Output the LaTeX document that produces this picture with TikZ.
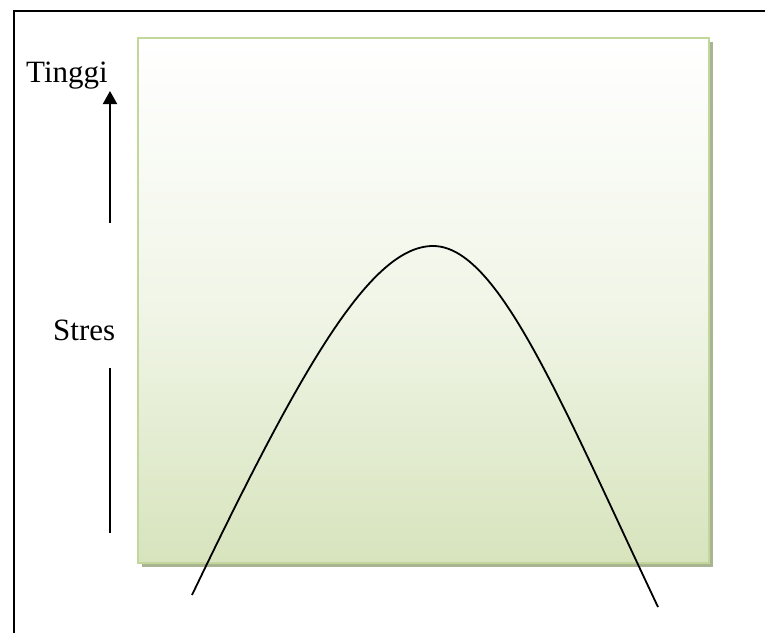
\documentclass[tikz,border=0pt]{standalone}
\usepackage{fontspec}
\setmainfont{Liberation Serif}
\usetikzlibrary{arrows.meta}
\definecolor{boxedge}{HTML}{C3D69B}
\definecolor{boxbottom}{HTML}{D7E4BD}
\definecolor{boxshadow}{HTML}{A9B493}
\tikzset{
  lbl/.style={inner sep=0pt, anchor=base west, font=\fontsize{31}{36}\selectfont},
  frameline/.style={line width=2pt, black},
  axisline/.style={line width=2pt, black},
  curveline/.style={line width=1.8pt, black}
}
\begin{document}
\begin{tikzpicture}[x=1pt,y=-1pt]
\useasboundingbox (0,0) rectangle (765,632);
% outer frame
\coordinate (fTL) at (14,11);
\coordinate (fTR) at (770,11);
\coordinate (fBL) at (14,640);
\draw[frameline] (fBL) -- (fTL) -- (fTR);
% shadow and box
\fill[boxshadow] (142,42) rectangle (713,567);
\shade[top color=white, bottom color=boxbottom, middle color=boxbottom!35!white] (138,38) rectangle (709,563);
\draw[boxedge, line width=2pt] (138,38) rectangle (709,563);
% labels
\node[lbl] (tinggi) at (26,82) {Tinggi};
\node[lbl] (stres) at (53,340) {Stres};
% arrow and line
\coordinate (aBot) at (110,223);
\coordinate (aTop) at (110,91);
\draw[axisline, -{Triangle[length=13pt,width=14pt]}] (aBot) -- (aTop);
\coordinate (lTop) at (110,368);
\coordinate (lBot) at (110,533);
\draw[axisline, line width=1.5pt] (lTop) -- (lBot);
% curve
\coordinate (cL) at (192,595);
\coordinate (cP) at (433,246);
\coordinate (cR) at (658,607);
\draw[curveline] (cL) .. controls (300,370) and (370,246) .. (cP)
  .. controls (498,246) and (560,400) .. (cR);
\end{tikzpicture}
\end{document}
